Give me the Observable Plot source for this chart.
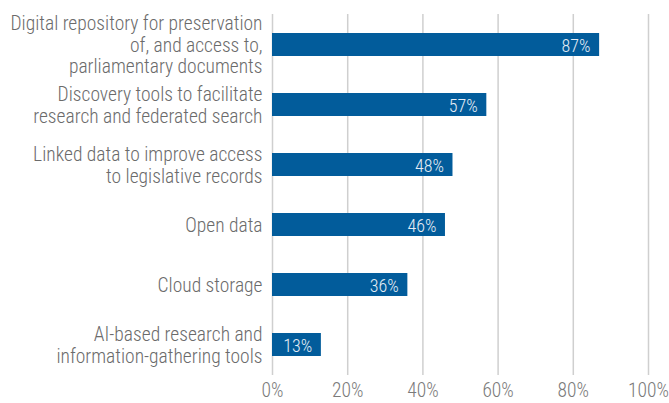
<!DOCTYPE html>
<html>
<head>
<meta charset="utf-8">
<script src="https://cdn.jsdelivr.net/npm/d3@7"></script>
<script src="https://cdn.jsdelivr.net/npm/@observablehq/plot@0.6"></script>
<style>
  html, body { margin: 0; padding: 0; background: #fff; }
  #chart svg { display: block; }
</style>
</head>
<body>
<div id="chart"></div>
<script>
const categories = [
  "Digital repository for preservation\nof, and access to,\nparliamentary documents",
  "Discovery tools to facilitate\nresearch and federated search",
  "Linked data to improve access\nto legislative records",
  "Open data",
  "Cloud storage",
  "AI-based research and\ninformation-gathering tools"
];
const values = [87, 57, 48, 46, 36, 13];
const xTicks = [0, 20, 40, 60, 80, 100];

const data = categories.map((c, i) => ({category: c, value: values[i]}));
const font = "'Roboto Condensed','Liberation Sans Narrow','Arial Narrow','DejaVu Sans Condensed',sans-serif";

const chart = Plot.plot({
  width: 669,
  height: 403,
  marginLeft: 272,
  marginRight: 21,
  marginTop: 14,
  marginBottom: 28,
  style: {fontFamily: font, fontStretch: "condensed", background: "#fff"},
  x: {domain: [0, 100]},
  y: {domain: categories, paddingInner: 0.62, paddingOuter: 0.31},
  marks: [
    Plot.ruleX(xTicks, {stroke: "#cfcfcf", strokeWidth: 1.5}),
    Plot.barX(data, {x: "value", y: "category", fill: "#025c9b"}),
    Plot.text(data, {x: "value", y: "category", text: d => d.value + "%", textAnchor: "end", dx: -9, dy: 1, fill: "#e6edf5", fontSize: 18, fontWeight: 300}),
    Plot.axisY({tickSize: 0, tickPadding: 10, fontSize: 19.5, fill: "#6b6b6b", fontWeight: 300, lineHeight: 1.1, label: null}),
    Plot.axisX(xTicks, {tickSize: 0, tickPadding: 8, fontSize: 19.5, fill: "#7a7a7a", fontWeight: 300, tickFormat: d => d + "%", label: null})
  ]
});
document.getElementById("chart").appendChild(chart);
</script>
</body>
</html>
